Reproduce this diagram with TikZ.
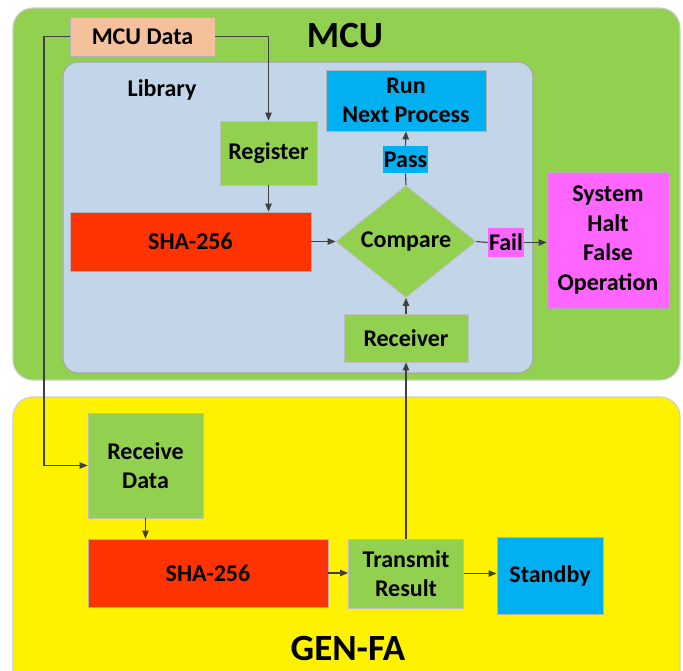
\documentclass[tikz,border=0pt]{standalone}
\usepackage{fontspec}
\setmainfont{Carlito}
\usepackage{tikz}
\usetikzlibrary{arrows.meta}
\usetikzlibrary{shapes.geometric}
\definecolor{mcugreen}{HTML}{92D050}
\definecolor{libblue}{HTML}{C3D5E8}
\definecolor{peach}{HTML}{F4C19C}
\definecolor{hashred}{HTML}{FF3300}
\definecolor{skyblue}{HTML}{00B0F0}
\definecolor{pinkish}{HTML}{FF66FF}
\definecolor{wire}{HTML}{404040}
\tikzset{basic/.style={draw=black!30,line width=0.8pt,
                       text badly centered,align=center,inner sep=0pt,
                       font=\bfseries\fontsize{24}{29.5}\selectfont}}
\tikzset{title/.style={font=\bfseries\fontsize{37}{40}\selectfont}}

\begin{document}
\begin{tikzpicture}[x=1pt,y=-1pt,>={Triangle[length=8pt,width=6.5pt]},draw=wire,line width=1.1pt]
    \tikzstyle{greenbox}=[basic,fill=mcugreen,draw=black!25]
    \tikzstyle{hashbox}=[basic,fill=hashred]
    \tikzstyle{bluebox}=[basic,fill=skyblue]
    \tikzstyle{pinkbox}=[basic,fill=pinkish]

    \clip (0,0) rectangle (683,670);
    \fill[white] (0,0) rectangle (683,670);

    % the two devices
    \draw[fill=mcugreen,draw=black!20,rounded corners=20pt] (13,8) rectangle (680,380);
    \draw[fill=libblue,draw=black!35,rounded corners=15pt] (63,62) rectangle (533,373);
    \draw[fill=yellow,draw=black!20,rounded corners=20pt] (13,397) rectangle (680,700);

    \node[title] (mcu) at (345,36) {MCU};
    \node[title] (genfa) at (348,648) {GEN-FA};
    \node[basic,draw=none] (lib) at (162,90) {Library};

    % MCU side
    \node[basic,fill=peach,minimum width=145,minimum height=39] (mcudata) at (142.5,36.5) {MCU Data};
    \node[greenbox,minimum width=97,minimum height=64] (register) at (268.5,153) {Register};
    \node[hashbox,minimum width=241,minimum height=59] (sha) at (190.5,241.5) {SHA-256};
    \node[greenbox,diamond,minimum width=140,minimum height=112] (compare) at (406,241.5) {Compare};
    \node[bluebox,draw=none,minimum width=45,minimum height=27] (pass) at (405.5,159.5) {Pass};
    \node[bluebox,minimum width=160,minimum height=61] (run) at (406,100.5) {Run\\Next Process};
    \node[pinkbox,draw=none,minimum width=36,minimum height=29] (fail) at (506,242.5) {Fail};
    \node[pinkbox,minimum width=122,minimum height=136] (halt) at (608,240) {System\\Halt\\False\\Operation};
    \node[greenbox,minimum width=124,minimum height=48] (receiver) at (406,338) {Receiver};

    % GEN-FA side
    \node[greenbox,minimum width=115,minimum height=105] (recv) at (145.5,465.5) {Receive\\Data};
    \node[hashbox,minimum width=240,minimum height=68] (shab) at (208,573) {SHA-256};
    \node[greenbox,minimum width=115,minimum height=69] (transmit) at (406,573.5) {Transmit\\Result};
    \node[bluebox,minimum width=106,minimum height=77] (standby) at (550,575.5) {Standby};

    % wires
    \coordinate (loop) at (44,36.5);
    \draw[->] (mcudata.west) -- (loop) |- (recv.west);
    \draw[->] (mcudata.east) -| (register.north);
    \draw[->] (register.south) -- (register.south |- sha.north);
    \draw[->] (sha.east) -- (compare.west);
    \draw (compare.north) -- (pass.south);
    \draw[->] (pass.north) -- (run.south);
    \draw (compare.east) -- (fail.west);
    \draw[->] (fail.east) -- (fail.east -| halt.west);
    \draw[->] (receiver.north) -- (compare.south);
    \draw[->] (recv.south) -- (recv.south |- shab.north);
    \draw[->] (shab.east) -- (shab.east -| transmit.west);
    \draw[->] (transmit.north) -- (receiver.south);
    \draw[->] (transmit.east) -- (transmit.east -| standby.west);
\end{tikzpicture}
\end{document}
